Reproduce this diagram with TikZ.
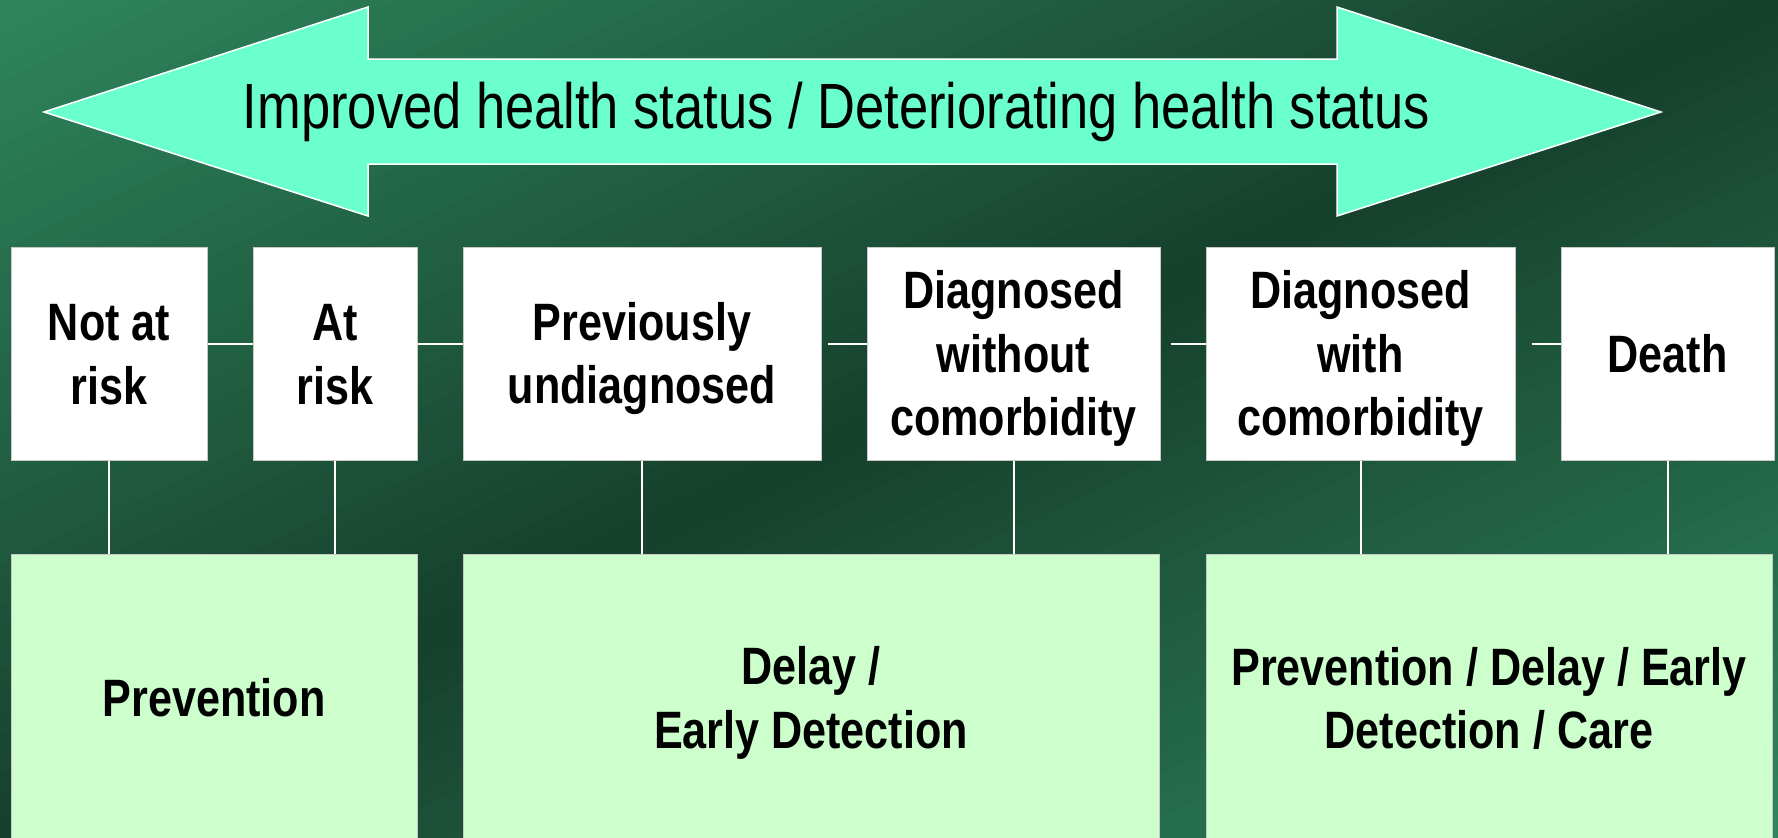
\documentclass[tikz,border=0pt]{standalone}
\usepackage{fontspec}
\setmainfont[FakeStretch=0.82]{Liberation Sans}
\definecolor{bglight}{RGB}{46,134,94}
\definecolor{bgdark}{RGB}{22,64,44}
\definecolor{arrowfill}{RGB}{106,255,204}
\definecolor{lowfill}{RGB}{204,255,204}
\definecolor{boxline}{RGB}{200,200,200}
\newcommand\bxl[1]{\rule[-0.2em]{0pt}{1.116em}#1}
\begin{document}
\begin{tikzpicture}[x=1pt,y=-1pt,
  topbox/.style={draw=boxline, line width=1pt, fill=white, inner sep=0pt,
    minimum height=213pt, align=center, text=black,
    font=\bfseries\fontsize{52.6}{63.5}\selectfont},
  lowbox/.style={draw=boxline, line width=1pt, fill=lowfill, inner sep=0pt,
    minimum height=288pt, align=center, text=black,
    font=\bfseries\fontsize{52.6}{63.5}\selectfont},
  link/.style={draw=white, line width=2pt}]
\useasboundingbox (0,0) rectangle (1778,838);
\clip (0,0) rectangle (1778,838);
% background gradient (light corners top-left / bottom-right, dark diagonal band)
\begin{scope}[shift={(889,419)}, rotate=-64.76]
  \foreach \i in {0,...,79} {
    \pgfmathsetmacro{\ta}{-760+19*\i}
    \pgfmathsetmacro{\tb}{\ta+20}
    \pgfmathsetmacro{\pc}{abs(\ta+9.5)/760*100}
    \fill[bglight!\pc!bgdark] (\ta,-1100) rectangle (\tb,1100);
  }
\end{scope}
% double arrow
\draw[fill=arrowfill, draw=white, line width=1.5pt, line join=miter]
  (44,112) -- (368,7) -- (368,59) -- (1337,59) -- (1337,7) -- (1661,112)
  -- (1337,216) -- (1337,164) -- (368,164) -- (368,216) -- cycle;
\node[anchor=base, inner sep=0pt, text=black, font=\fontsize{64}{77}\selectfont]
  (title) at (836.5,128) {Improved health status / Deteriorating health status};
% top boxes
\node[topbox, minimum width=196pt] (na) at (109,353.5) {\bxl{Not at}\\\bxl{risk}};
\node[topbox, minimum width=164pt] (ar) at (335,353.5) {\bxl{At}\\\bxl{risk}};
\node[topbox, minimum width=358pt] (pu) at (642,353.5) {\bxl{Previously}\\\bxl{undiagnosed}};
\node[topbox, minimum width=293pt] (dwo) at (1013.5,353.5) {\bxl{Diagnosed}\\\bxl{without}\\\bxl{comorbidity}};
\node[topbox, minimum width=309pt] (dw) at (1360.5,353.5) {\bxl{Diagnosed}\\\bxl{with}\\\bxl{comorbidity}};
\node[topbox, minimum width=213pt] (de) at (1667.5,353.5) {\bxl{Death}};
% bottom boxes
\node[lowbox, minimum width=406pt] (b1) at (214,698) {\bxl{Prevention}};
\node[lowbox, minimum width=696pt] (b2) at (811,698) {\bxl{Delay /}\\\bxl{Early Detection}};
\node[lowbox, minimum width=566pt] (b3) at (1489,698) {\bxl{Prevention / Delay / Early}\\\bxl{Detection / Care}};
% horizontal connectors
\draw[link] ([yshift=9.5pt]na.east) -- ([yshift=9.5pt]ar.west);
\draw[link] ([yshift=9.5pt]ar.east) -- ([yshift=9.5pt]pu.west);
\draw[link] ([shift={(6pt,9.5pt)}]pu.east) -- ([yshift=9.5pt]dwo.west);
\draw[link] ([shift={(10pt,9.5pt)}]dwo.east) -- ([yshift=9.5pt]dw.west);
\draw[link] ([shift={(16pt,9.5pt)}]dw.east) -- ([yshift=9.5pt]de.west);
% vertical connectors
\draw[link] (na.south) -- (na.south |- b1.north);
\draw[link] (ar.south) -- (ar.south |- b1.north);
\draw[link] (pu.south) -- (pu.south |- b2.north);
\draw[link] (dwo.south) -- (dwo.south |- b2.north);
\draw[link] (dw.south) -- (dw.south |- b3.north);
\draw[link] (de.south) -- (de.south |- b3.north);
\end{tikzpicture}
\end{document}
